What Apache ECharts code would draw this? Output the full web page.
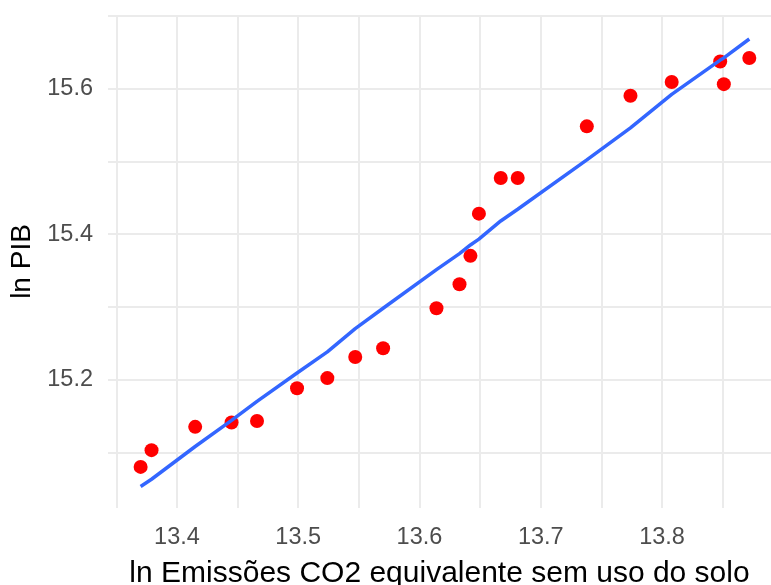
<!DOCTYPE html>
<html>
<head>
<meta charset="utf-8">
<script src="https://cdn.jsdelivr.net/npm/echarts@6/dist/echarts.min.js"></script>
<style>html,body{margin:0;padding:0;background:#fff}#c{width:771px;height:585px}</style>
</head>
<body>
<div id="c"></div>
<script>
// ln Emissões CO2 (x), ln PIB observed (y), fitted values (fit)
const lnCO2 = [13.370, 13.379, 13.415, 13.445, 13.466, 13.499, 13.524, 13.547, 13.570, 13.614, 13.633, 13.642, 13.649, 13.667, 13.681, 13.738, 13.774, 13.808, 13.848, 13.851, 13.872];
const lnPIB = [15.080, 15.103, 15.135, 15.141, 15.143, 15.188, 15.202, 15.231, 15.243, 15.298, 15.331, 15.370, 15.428, 15.477, 15.477, 15.548, 15.590, 15.609, 15.637, 15.606, 15.642];
const fitted = [15.053, 15.063, 15.108, 15.144, 15.170, 15.209, 15.238, 15.270, 15.298, 15.351, 15.373, 15.385, 15.393, 15.418, 15.434, 15.502, 15.546, 15.592, 15.639, 15.642, 15.668];
const xLabels = [13.4, 13.5, 13.6, 13.7, 13.8];
const xGrid = [13.35, 13.4, 13.45, 13.5, 13.55, 13.6, 13.65, 13.7, 13.75, 13.8, 13.85];
const yLabels = [15.2, 15.4, 15.6];
const yGrid = [15.1, 15.2, 15.3, 15.4, 15.5, 15.6, 15.7];

const chart = echarts.init(document.getElementById('c'));
const font = 'Liberation Sans, Arial, sans-serif';
chart.setOption({
  animation: false,
  backgroundColor: '#fff',
  grid: {left: 108, right: 0, top: 15, bottom: 77, containLabel: false, outerBoundsMode: 'none'},
  xAxis: {
    type: 'value', min: 13.3431, max: 13.8899,
    name: 'ln Emissões CO2 equivalente sem uso do solo',
    nameLocation: 'middle', nameGap: 51,
    nameTextStyle: {color: '#000', fontSize: 30, fontFamily: font},
    axisLine: {show: false},
    axisTick: {show: false, customValues: xGrid},
    axisLabel: {customValues: xLabels, color: '#4D4D4D', fontSize: 23.5, fontFamily: font, margin: 18,
      formatter: v => v.toFixed(1)},
    splitLine: {show: true, lineStyle: {color: '#EBEBEB', width: 2}}
  },
  yAxis: {
    type: 'value', min: 15.0235, max: 15.701,
    name: 'ln PIB', nameLocation: 'middle', nameGap: 66, nameRotate: 90,
    nameTextStyle: {color: '#000', fontSize: 28, fontFamily: font},
    axisLine: {show: false},
    axisTick: {show: false, customValues: yGrid},
    axisLabel: {customValues: yLabels, color: '#4D4D4D', fontSize: 23.5, fontFamily: font, margin: 15,
      padding: [3, 0, 0, 0], formatter: v => v.toFixed(1)},
    splitLine: {show: true, lineStyle: {color: '#EBEBEB', width: 2}}
  },
  series: [
    {type: 'scatter', data: lnCO2.map((x, i) => [x, lnPIB[i]]), symbolSize: 14,
      itemStyle: {color: '#FF0000', opacity: 1}, z: 3},
    {type: 'line', data: lnCO2.map((x, i) => [x, fitted[i]]), showSymbol: false,
      lineStyle: {color: '#3366FF', width: 3.5}, z: 4}
  ]
});
</script>
</body>
</html>
